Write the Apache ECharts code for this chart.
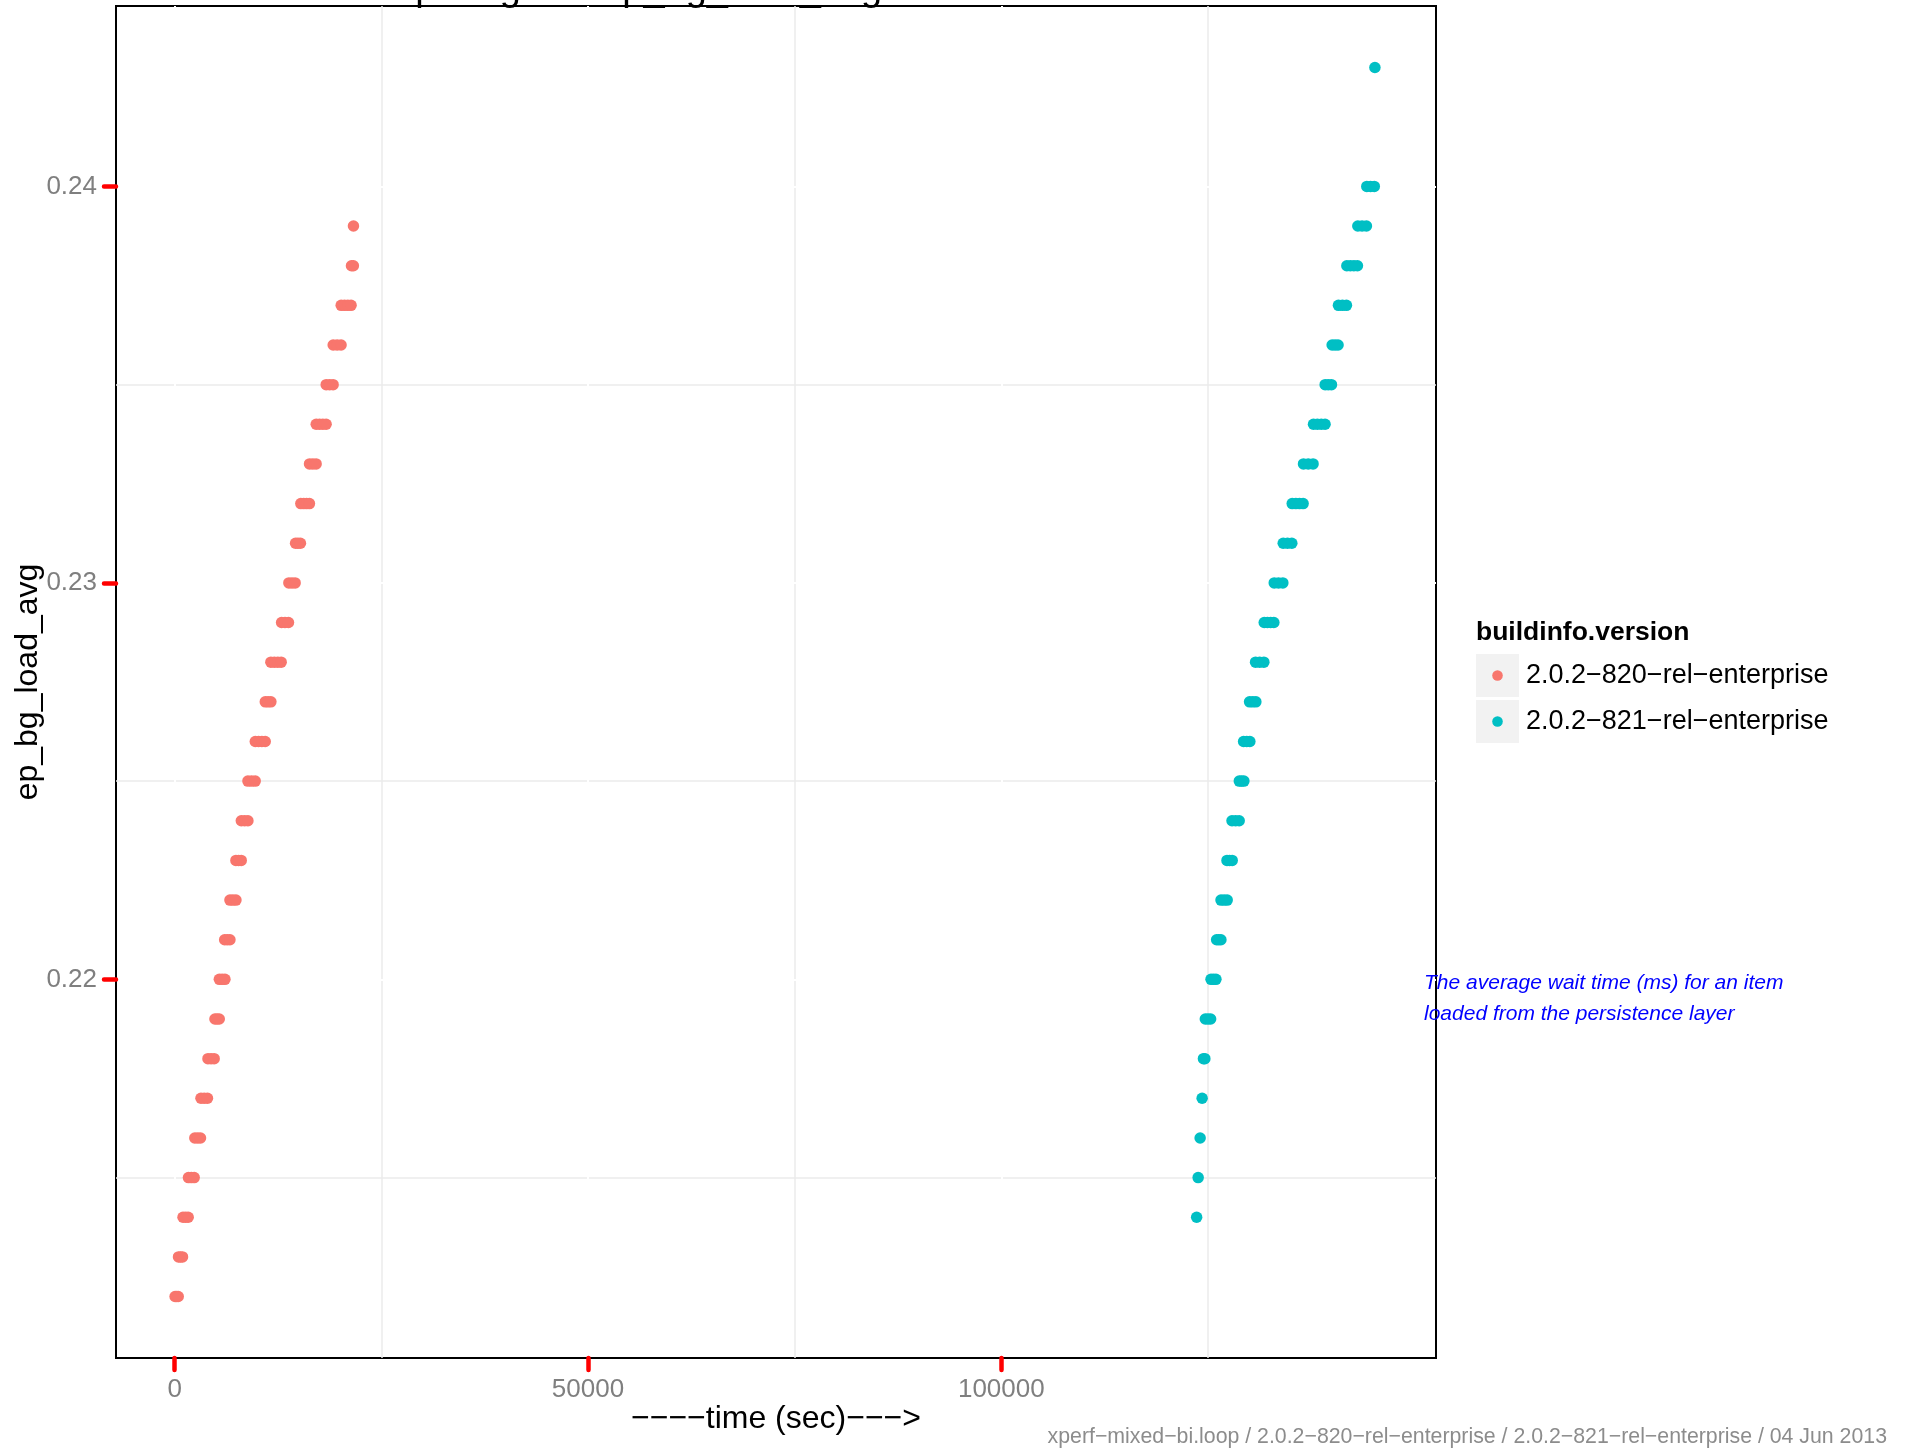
<!DOCTYPE html>
<html>
<head>
<meta charset="utf-8">
<script src="https://cdn.jsdelivr.net/npm/echarts@6/dist/echarts.min.js"></script>
<style>
html,body{margin:0;padding:0;background:#fff;}
#chart{width:1910px;height:1449px;}
</style>
</head>
<body>
<div id="chart"></div>
<script>
// ---- data ----
const seriesNames = ['2.0.2\u2212820\u2212rel\u2212enterprise', '2.0.2\u2212821\u2212rel\u2212enterprise'];
const seriesColors = ['#F8766D', '#00BFC4'];

const levels820 = [0.212,0.213,0.214,0.215,0.216,0.217,0.218,0.219,0.220,0.221,0.222,0.223,0.224,0.225,
                   0.226,0.227,0.228,0.229,0.230,0.231,0.232,0.233,0.234,0.235,0.236,0.237,0.238,0.239];
const times820 = [
  [60, 250, 435],
  [471, 710, 954],
  [1015, 1330, 1643],
  [1679, 2020, 2368],
  [2440, 2790, 3129],
  [3189, 3580, 3974],
  [4035, 4410, 4784],
  [4880, 5140, 5400],
  [5412, 5750, 6088],
  [6052, 6370, 6692],
  [6692, 7050, 7417],
  [7417, 7740, 8057],
  [8069, 8470, 8867],
  [8867, 9310, 9749],
  [9761, 10160, 10560, 10957],
  [10969, 11310, 11645],
  [11645, 12060, 12480, 12889],
  [12938, 13350, 13771],
  [13820, 14200, 14580],
  [14629, 14920, 15221],
  [15269, 15620, 15960, 16308],
  [16320, 16720, 17117],
  [17129, 17530, 17930, 18325],
  [18337, 18750, 19171],
  [19183, 19660, 20137],
  [20149, 20550, 20950, 21345],
  [21394, 21623],
  [21635]
];

const levels821 = [0.214,0.215,0.216,0.217,0.218,0.219,0.220,0.221,0.222,0.223,0.224,0.225,0.226,0.227,
                   0.228,0.229,0.230,0.231,0.232,0.233,0.234,0.235,0.236,0.237,0.238,0.239,0.240,0.243];
const times821 = [
  [123627],
  [123808],
  [124050],
  [124291],
  [124450, 124620],
  [124678, 125000, 125318],
  [125366, 125660, 125958],
  [126043, 126300, 126562],
  [126574, 126950, 127323],
  [127299, 127610, 127927],
  [127903, 128340, 128773],
  [128785, 129060, 129341],
  [129304, 129690, 130066],
  [130029, 130410, 130790],
  [130754, 131250, 131757],
  [131805, 132190, 132580, 132965],
  [133013, 133530, 134052],
  [134100, 134620, 135139],
  [135187, 135630, 136070, 136504],
  [136552, 137130, 137712],
  [137761, 138230, 138700, 139162],
  [139174, 139550, 139935],
  [140019, 140380, 140732],
  [140780, 141260, 141747],
  [141795, 142220, 142650, 143076],
  [143124, 143640, 144163],
  [144211, 144660, 145117],
  [145190]
];

const xTicks = [0, 50000, 100000];
const xMinorGrid = [25000, 75000, 125000];
const yTicks = [0.22, 0.23, 0.24];
const yMinorGrid = [0.215, 0.225, 0.235];
const xRange = [-7090, 152580];
const yRange = [0.21045, 0.24455];

const chartTitle = 'Comparing two ep_bg_load_avg';
const xAxisTitle = '\u2212\u2212\u2212\u2212time (sec)\u2212\u2212\u2212>';
const yAxisTitle = 'ep_bg_load_avg';
const legendTitle = 'buildinfo.version';
const noteText = 'The average wait time (ms) for an item\nloaded from the persistence layer';
const footerText = 'xperf\u2212mixed\u2212bi.loop / 2.0.2\u2212820\u2212rel\u2212enterprise / 2.0.2\u2212821\u2212rel\u2212enterprise / 04 Jun 2013';

// ---- build ----
function buildPoints(levels, times) {
  const out = [];
  levels.forEach((lv, i) => times[i].forEach(t => out.push([t, lv])));
  return out;
}
function keyIcon(color) {
  const svg = "<svg xmlns='http://www.w3.org/2000/svg' width='43' height='43'>" +
    "<rect width='43' height='43' fill='#F2F2F2'/>" +
    "<circle cx='21.5' cy='21.5' r='5.3' fill='" + color + "'/></svg>";
  return 'image://data:image/svg+xml;charset=utf-8,' + encodeURIComponent(svg);
}

const FONT = '"Liberation Sans", Arial, Helvetica, sans-serif';
const chart = echarts.init(document.getElementById('chart'), null, {renderer: 'canvas'});

const majorX = {
  type: 'value', gridIndex: 0, min: xRange[0], max: xRange[1], z: 3,
  position: 'bottom',
  name: xAxisTitle, nameLocation: 'middle', nameGap: 45, nameMoveOverlap: false,
  nameTextStyle: {fontFamily: FONT, fontSize: 32, color: '#000'},
  axisLine: {show: false, onZero: false},
  axisTick: {show: true, customValues: xTicks, length: 12, inside: false,
             lineStyle: {color: '#FF0000', width: 4.5, cap: 'round'}},
  axisLabel: {show: true, customValues: xTicks, margin: 19, fontFamily: FONT, fontSize: 26, color: '#7F7F7F',
              formatter: v => String(v)},
  splitLine: {show: true, lineStyle: {color: '#FFFFFF', width: 2}}
};
const minorX = {
  type: 'value', gridIndex: 0, min: xRange[0], max: xRange[1], z: 1,
  position: 'top',
  axisLine: {show: false, onZero: false},
  axisTick: {show: false, customValues: xMinorGrid},
  axisLabel: {show: false, customValues: xMinorGrid},
  splitLine: {show: true, lineStyle: {color: '#EBEBEB', width: 1.5}}
};
const majorY = {
  type: 'value', gridIndex: 0, min: yRange[0], max: yRange[1], z: 3,
  position: 'left',
  name: yAxisTitle, nameLocation: 'middle', nameGap: 72, nameRotate: 90, nameMoveOverlap: false,
  nameTextStyle: {fontFamily: FONT, fontSize: 32, color: '#000'},
  axisLine: {show: false, onZero: false},
  axisTick: {show: true, customValues: yTicks, length: 12,
             lineStyle: {color: '#FF0000', width: 4.5, cap: 'round'}},
  axisLabel: {show: true, customValues: yTicks, margin: 19, fontFamily: FONT, fontSize: 26, color: '#7F7F7F',
              formatter: v => Number(v).toFixed(2)},
  splitLine: {show: true, lineStyle: {color: '#FFFFFF', width: 2}}
};
const minorY = {
  type: 'value', gridIndex: 0, min: yRange[0], max: yRange[1], z: 1,
  position: 'right',
  axisLine: {show: false, onZero: false},
  axisTick: {show: false, customValues: yMinorGrid},
  axisLabel: {show: false, customValues: yMinorGrid},
  splitLine: {show: true, lineStyle: {color: '#EBEBEB', width: 1.5}}
};

const option = {
  backgroundColor: '#FFFFFF',
  animation: false,
  title: [
    {text: chartTitle, left: 335, top: -29, padding: 0,
     textStyle: {fontFamily: FONT, fontSize: 38, fontWeight: 'normal', color: '#000', lineHeight: 38}},
    {text: legendTitle, left: 1476, top: 619, padding: 0,
     textStyle: {fontFamily: FONT, fontSize: 26.5, fontWeight: 'bold', color: '#000', lineHeight: 28}},
    {text: noteText, left: 1424, top: 967, padding: 0,
     textStyle: {fontFamily: FONT, fontSize: 21, fontStyle: 'italic', fontWeight: 'normal', color: '#0000FF', lineHeight: 31.5}},
    {text: footerText, right: 23, top: 1426, padding: 0,
     textStyle: {fontFamily: FONT, fontSize: 21.3, fontWeight: 'normal', color: '#8C8C8C', lineHeight: 22}}
  ],
  grid: {left: 116, top: 6, width: 1320, height: 1352, show: true, outerBoundsMode: 'none',
         containLabel: false, borderColor: '#000', borderWidth: 2, backgroundColor: '#FFFFFF'},
  legend: {
    orient: 'vertical', left: 1476, top: 654, padding: 0,
    itemWidth: 43, itemHeight: 43, itemGap: 3,
    textStyle: {fontFamily: FONT, fontSize: 27, color: '#000', padding: [0, 0, 0, 2]},
    data: seriesNames.map((n, i) => ({name: n, icon: keyIcon(seriesColors[i])}))
  },
  xAxis: [majorX, minorX],
  yAxis: [majorY, minorY],
  series: [
    {name: seriesNames[0], type: 'scatter', xAxisIndex: 0, yAxisIndex: 0, z: 5,
     symbol: 'circle', symbolSize: 11.5, itemStyle: {color: seriesColors[0], opacity: 1},
     data: buildPoints(levels820, times820)},
    {name: seriesNames[1], type: 'scatter', xAxisIndex: 0, yAxisIndex: 0, z: 5,
     symbol: 'circle', symbolSize: 11.5, itemStyle: {color: seriesColors[1], opacity: 1},
     data: buildPoints(levels821, times821)}
  ]
};
chart.setOption(option);
</script>
</body>
</html>
